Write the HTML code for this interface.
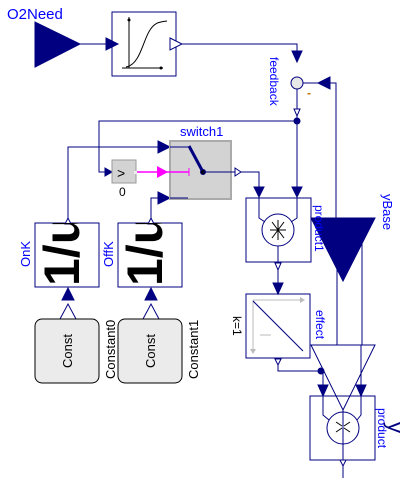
<!DOCTYPE html>
<html><head><style>
body{margin:0;background:#fff}
svg{display:block}
text{font-family:"Liberation Sans",sans-serif}
</style></head><body>
<svg width="408" height="485" viewBox="0 0 408 485" xmlns="http://www.w3.org/2000/svg">
<defs><clipPath id="c1"><rect x="35" y="223" width="64" height="64"/></clipPath>
<clipPath id="c2"><rect x="118" y="223" width="64" height="64"/></clipPath></defs>
<g stroke="#000080" fill="none" stroke-width="1">
<!-- top -->
<polygon points="35,22 35,67 80,44" fill="#000080"/>
<line x1="80" y1="44" x2="112" y2="44"/>
<polygon points="106,38 118,44 106,50" fill="#000080"/>
<rect x="112" y="12" width="64" height="64"/>
<polyline points="182,44 297,44 297,52"/>
<polygon points="170,38 182,44 170,50" fill="#fff"/>
<polygon points="292,51 302,51 297,62" fill="#000080"/>
<circle cx="297" cy="83" r="6" fill="#e8e8e8"/>
<polyline points="303,83 336,83 336,220"/>
<polygon points="330,77 318,83 330,89" fill="#000080"/>
<line x1="297" y1="89" x2="297" y2="189"/>
<polygon points="294,109 300,109 297,116" fill="#fff"/>
<circle cx="297" cy="121" r="3" fill="#000080"/>
<polyline points="297,121 99,121 99,172 108,172"/>
<polygon points="105,168 112,172 105,176" fill="#000080"/>
<polygon points="292,187 302,187 297,197" fill="#000080"/>
<!-- switch -->
<polyline points="68,220 68,147 160,147"/>
<polygon points="158,141 170,147 158,153" fill="#000080"/>
<polyline points="151,220 151,198 160,198"/>
<polygon points="158,192 170,198 158,204" fill="#000080"/>
<rect x="112" y="160" width="24" height="23" fill="#d3d3d3" stroke="#999"/>
<rect x="170" y="141" width="61" height="58" fill="#d3d3d3" stroke="#aaa" stroke-width="2"/>
<line x1="170" y1="147" x2="189" y2="147"/>
<line x1="170" y1="198" x2="188" y2="198"/>
<line x1="189" y1="146" x2="203" y2="172" stroke-width="3"/>
<circle cx="203" cy="172" r="2.5" fill="#000"/>
<polyline points="203,172 235,172"/>
<polyline points="241,172 259,172 259,189"/>
<polygon points="235,168 241,172 235,176" fill="#fff"/>
<polygon points="254,187 264,187 259,197" fill="#000080"/>
<!-- product1 -->
<rect x="246" y="198" width="65" height="64"/>
<polyline points="259,197 259,218 265,222"/>
<polyline points="297,197 297,218 291,222"/>
<circle cx="278" cy="230" r="16"/>
<line x1="278" y1="246" x2="278" y2="262"/>
<line x1="278" y1="270" x2="278" y2="284"/>
<polygon points="275,263 281,263 278,270" fill="#fff"/>
<polygon points="273,283 283,283 278,294" fill="#000080"/>
<!-- yBase -->
<polygon points="311,218 375,218 343,281" fill="#000080"/>
<line x1="337" y1="230" x2="337" y2="345"/>
<line x1="362" y1="218" x2="362" y2="345"/>
<!-- effect -->
<rect x="246" y="294" width="64" height="64"/>
<g stroke="#bbb"><line x1="253" y1="300" x2="303" y2="300"/><line x1="253" y1="300" x2="253" y2="352"/><line x1="260" y1="335" x2="271" y2="335"/></g>
<polygon points="300,297 305,300 300,303" fill="#bbb" stroke="none"/>
<polygon points="250,349 253,354 256,349" fill="#bbb" stroke="none"/>
<line x1="253" y1="301" x2="303" y2="351"/>
<polygon points="275,359 281,359 278,365" fill="#fff"/>
<polyline points="278,365 278,371 321,371"/>
<circle cx="321" cy="371" r="3" fill="#000080"/>
<polyline points="323,371 323,386"/>
<polygon points="318,385 328,385 323,396" fill="#000080"/>
<line x1="361" y1="345" x2="361" y2="386"/>
<polygon points="356,385 366,385 361,396" fill="#000080"/>
<polygon points="311,345 375,345 343,410"/>
<!-- product -->
<rect x="310" y="396" width="65" height="64"/>
<polyline points="323,396 323,415 329,420"/>
<polyline points="361,396 361,415 357,420"/>
<circle cx="343" cy="428" r="16"/>
<line x1="343" y1="410" x2="343" y2="478"/>
<polygon points="340,460 346,460 343,466" fill="#fff"/>
<!-- 1/u blocks -->
<rect x="35" y="223" width="64" height="64"/>
<rect x="118" y="223" width="64" height="64"/>
<polygon points="65,224 71,224 68,218" fill="#fff"/>
<polygon points="148,224 154,224 151,218" fill="#fff"/>
<polygon points="62,300 74,300 68,288" fill="#000080"/>
<polygon points="145,300 157,300 151,288" fill="#000080"/>
<polyline points="60,319 68,304 76,319"/>
<polyline points="143,319 151,304 159,319"/>
<rect x="35" y="319" width="64" height="64" rx="7" fill="#ebebeb" stroke="#000"/>
<rect x="118" y="319" width="64" height="64" rx="7" fill="#ebebeb" stroke="#000"/>
</g>
<g stroke="#000" fill="none" stroke-width="1">
<line x1="129" y1="17" x2="129" y2="68"/><line x1="122" y1="68" x2="163" y2="68"/>
<path d="M126,67 C140,65 143,40 150,30 C155,22 160,22 167,21"/>
<line x1="272" y1="222" x2="284" y2="238"/><line x1="272" y1="238" x2="284" y2="222"/><line x1="270" y1="230" x2="286" y2="230"/><line x1="278" y1="220" x2="278" y2="240"/>
<line x1="336" y1="422" x2="342" y2="426"/><line x1="336" y1="432" x2="342" y2="428"/>
<line x1="350" y1="422" x2="344" y2="426"/><line x1="350" y1="432" x2="344" y2="428"/>
</g>
<circle cx="129" cy="20" r="1.5" fill="#000"/><circle cx="161" cy="68" r="1.5" fill="#000"/>
<!-- magenta -->
<line x1="136" y1="172" x2="189" y2="172" stroke="#f0f" stroke-width="1.5"/>
<polygon points="157,166 168,172 157,178" fill="#f0f"/>
<line x1="189" y1="168" x2="189" y2="176" stroke="#f0f"/>
<rect x="134" y="171" width="3" height="3" fill="#eee"/>
<!-- text -->
<text x="7" y="19" font-size="15" fill="#0000ff">O2Need</text>
<text x="180" y="136" font-size="13" fill="#0000ff">switch1</text>
<text x="117" y="178" font-size="14" fill="#000">&gt;</text>
<text x="119" y="196" font-size="12" fill="#000">0</text>
<text x="307" y="97" font-size="12" fill="#c07000" font-weight="bold">-</text>
<text transform="translate(270,57) rotate(90)" font-size="12" fill="#0000ff">feedback</text>
<text transform="translate(383,194) rotate(90)" font-size="13" fill="#0000ff">yBase</text>
<text transform="translate(315,205) rotate(90)" font-size="12" fill="#0000ff">product1</text>
<text transform="translate(316,310) rotate(90)" font-size="12" fill="#0000ff">effect</text>
<text transform="translate(233,316) rotate(90)" font-size="12" fill="#000">k=1</text>
<text transform="translate(378,408) rotate(90)" font-size="12" fill="#0000ff">product</text>
<text transform="translate(388,422) rotate(90)" font-size="22" fill="#000080">y</text>
<text transform="translate(30,267) rotate(-90)" font-size="13" fill="#0000ff">OnK</text>
<text transform="translate(113,267) rotate(-90)" font-size="13" fill="#0000ff">OffK</text>
<text transform="translate(72,368) rotate(-90)" font-size="13" fill="#000">Const</text>
<text transform="translate(155,368) rotate(-90)" font-size="13" fill="#000">Const</text>
<text transform="translate(115,379) rotate(-90)" font-size="13" fill="#000">Constant0</text>
<text transform="translate(198,379) rotate(-90)" font-size="13" fill="#000">Constant1</text>
<g clip-path="url(#c1)"><text transform="translate(79,286) rotate(-90)" font-size="50" font-weight="bold" fill="#000">1/u</text></g>
<g clip-path="url(#c2)"><text transform="translate(162,286) rotate(-90)" font-size="50" font-weight="bold" fill="#000">1/u</text></g>
</svg>
</body></html>
